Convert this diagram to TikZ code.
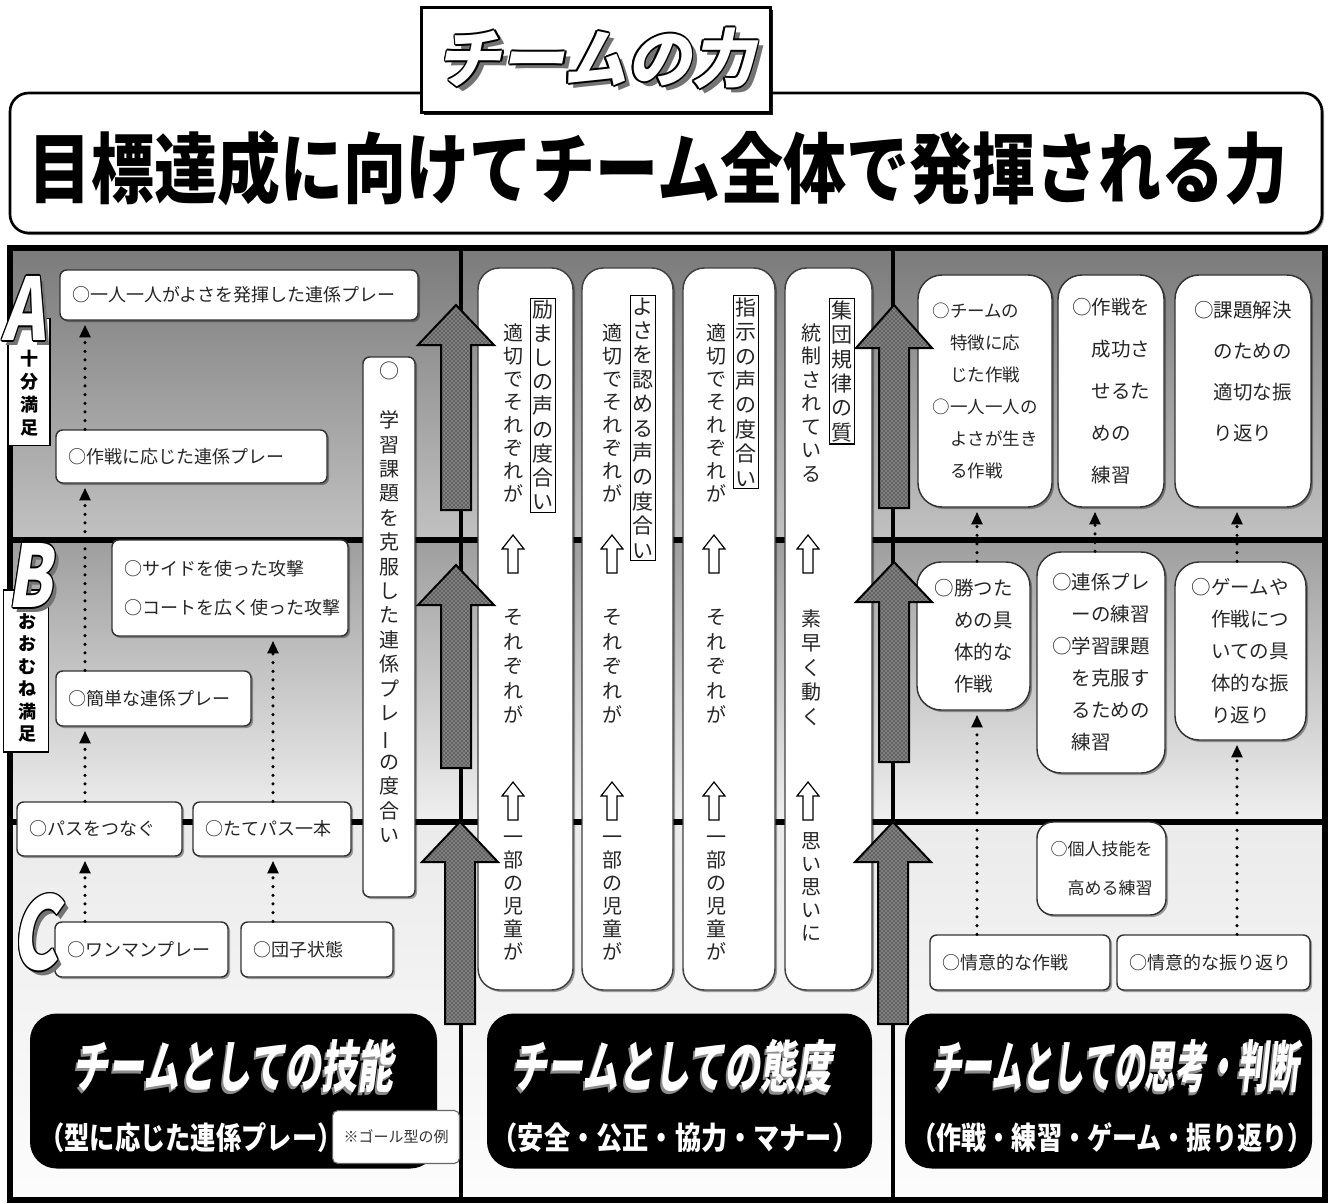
\documentclass[tikz,border=0pt]{standalone}
\usepackage{fontspec}
\usepackage{graphicx}
\usetikzlibrary{arrows.meta,patterns,shadows,calc}
\newfontfamily\jp{Noto Sans CJK JP}
\newfontfamily\jpsl[FakeSlant=0.2]{Noto Sans CJK JP}
\newcommand\PX[1]{\fpeval{(#1)*0.75}pt}
\newcommand\px[2]{\fontsize{\PX{#1}}{\PX{#2}}\selectfont}
\makeatletter
\def\vt#1{\vt@aux#1\relax}
\def\vt@aux#1{\ifx\relax#1\else\hbox to 1em{\hss#1\hss}\expandafter\vt@aux\fi}
\makeatother
\newcommand\vtext[2]{\vbox{\baselineskip=\PX{#1}\lineskiplimit=-100pt\lineskip=0pt\vt{#2}}}
\newcommand\VB{\rotatebox[origin=c]{90}{ー}}
\newcommand\cp[3]{\rlap{\kern#1\raisebox{#2}{#3}}}
\newcommand\olt[2]{\mbox{%
\cp{\PX{3*#1}}{\PX{-3*#1}}{\color{black!55}#2}%
\cp{\PX{#1}}{0pt}{\color{black}#2}%
\cp{\PX{-#1}}{0pt}{\color{black}#2}%
\cp{0pt}{\PX{#1}}{\color{black}#2}%
\cp{0pt}{\PX{-#1}}{\color{black}#2}%
\cp{\PX{0.7*#1}}{\PX{0.7*#1}}{\color{black}#2}%
\cp{\PX{-0.7*#1}}{\PX{0.7*#1}}{\color{black}#2}%
\cp{\PX{0.7*#1}}{\PX{-0.7*#1}}{\color{black}#2}%
\cp{\PX{-0.7*#1}}{\PX{-0.7*#1}}{\color{black}#2}%
{\color{white}#2}}}
\newcommand\sht[1]{\mbox{\cp{\PX{-3}}{\PX{-3}}{\color{black!45}#1}{\color{white}#1}}}
\tikzset{
  lbx/.style={draw=black!80, line width=1.1pt, fill=white, rounded corners=5pt,
    drop shadow={shadow xshift=1.5pt, shadow yshift=-1.5pt, opacity=0.35, fill=black},
    font=\jp\px{18}{22}, text=black!85, align=left, inner xsep=9pt, inner ysep=0pt},
  rbx/.style={lbx, rounded corners=18pt, inner xsep=0pt},
  colbox/.style={draw=black!75, line width=1.1pt, fill=white, rounded corners=16pt,
    drop shadow={shadow xshift=1.5pt, shadow yshift=-1.5pt, opacity=0.35, fill=black}},
  vtx/.style={font=\jp\px{20}{23}, text=black!85, inner sep=0pt, anchor=north},
  lab/.style={draw=black, line width=1pt, fill=white, inner xsep=1.5pt, inner ysep=1.5pt,
    font=\jp\px{21}{24}, text=black!85, anchor=north},
  dotarr/.style={line width=2.6pt, line cap=round, dash pattern=on 0pt off 6.5pt,
    -{Triangle[length=9.5pt, width=8pt]}, shorten >=3pt},
  bigarr/.style={draw=black, line width=1.5pt, fill=black!50,
    postaction={pattern=crosshatch dots, pattern color=black}},
  blk/.style={fill=black, rounded corners=20pt, inner sep=0pt},
}
\newcommand\bxL[7][]{\node[lbx,#1, minimum width={(#5-#3)*0.75pt}, minimum height={(#6-#4)*0.75pt}, text width={(#5-#3-24)*0.75pt}] (#2) at ({(#3+#5)/2},{(#4+#6)/2}) {#7};}
\newcommand\bxR[7][]{\node[rbx,#1, minimum width={(#5-#3)*0.75pt}, minimum height={(#6-#4)*0.75pt}] (#2) at ({(#3+#5)/2},{(#4+#6)/2}) {#7};}
\newcommand\bigarrow[4]{\draw[bigarr] (#1,#2) -- ({#1+38},#3) -- ({#1+15},#3) -- ({#1+15},#4) -- ({#1-15},#4) -- ({#1-15},#3) -- ({#1-38},#3) -- cycle;}
\newcommand\hollow[2]{\draw[line width=0.9pt, fill=white, line join=miter] (#1,#2) -- ({#1+11},{#2+14}) -- ({#1+5},{#2+14}) -- ({#1+5},{#2+38}) -- ({#1-5},{#2+38}) -- ({#1-5},{#2+14}) -- ({#1-11},{#2+14}) -- cycle;}
\begin{document}
\begin{tikzpicture}[x=0.75pt,y=-0.75pt]
\useasboundingbox (0,0) rectangle (1331,1203);
\fill[white] (0,0) rectangle (1331,1203);
% ---------- header ----------
\node[draw, line width=2pt, rounded corners=14pt, fill=white, minimum width={1312*0.75pt}, minimum height={140*0.75pt}, inner sep=0pt,
  drop shadow={shadow xshift=1.5pt, shadow yshift=-1.5pt, opacity=0.4, fill=black}] (goal) at (666,163) {};
\node[font=\jp\bfseries\px{63}{63}, inner sep=0pt] (goaltxt) at (658,168) {\scalebox{1}[1.22]{目標達成に向けてチーム全体で発揮される力}};
\node[draw, line width=2pt, fill=white, minimum width={349*0.75pt}, minimum height={105*0.75pt}, inner sep=0pt,
  drop shadow={shadow xshift=2pt, shadow yshift=-2pt, opacity=0.9, fill=black},
  font=\jpsl\bfseries\px{64}{64}] (power) at (596,60) {\olt{1.8}{チームの力}};
% ---------- grid ----------
\shade[top color=black!52, bottom color=black!24] (10,248) rectangle (1325,540);
\shade[top color=black!38, bottom color=black!6] (10,540) rectangle (1325,822);
\shade[top color=black!8, bottom color=black!1] (10,822) rectangle (1325,1200);
\draw[line width=2.6pt] (461,248) -- (461,1200);
\draw[line width=2.6pt] (893,248) -- (893,1200);
\draw[line width=5pt] (10,540) -- (1325,540);
\draw[line width=5pt] (10,822) -- (1325,822);
\draw[line width=4pt] (10,248) rectangle (1325,1200);
% ---------- left column ----------
\bxL{b1}{60}{270}{418}{320}{○一人一人がよさを発揮した連係プレー}
\bxL{b2}{56}{430}{327}{483}{○作戦に応じた連係プレー}
\bxL[font=\jp\px{18}{39}]{b3}{112}{540}{348}{636}{○サイドを使った攻撃\\○コートを広く使った攻撃}
\bxL{b4}{56}{671}{251}{726}{○簡単な連係プレー}
\bxL{b5}{17}{802}{182}{856}{○パスをつなぐ}
\bxL{b6}{193}{802}{351}{856}{○たてパス一本}
\bxL{b7}{55}{922}{228}{977}{○ワンマンプレー}
\bxL{b8}{241}{922}{393}{977}{○団子状態}
\node[lbx, minimum width={52*0.75pt}, minimum height={540*0.75pt}, inner sep=0pt] (tall) at (389,627) {};
\node[vtx] (tallt) at (389,362) {\vtext{24.4}{○　学習課題を克服した連係プレ\VB の度合い}};
\node[draw, line width=1pt, fill=white, minimum width={42*0.75pt}, minimum height={127*0.75pt}, inner sep=0pt] (lblA) at (29,382) {};
\node[font=\jp\bfseries\px{18}{23}, inner sep=0pt, anchor=north] (lblAt) at (29,350) {\vtext{23}{十分満足}};
\node[draw, line width=1pt, fill=white, minimum width={45*0.75pt}, minimum height={162*0.75pt}, inner sep=0pt] (lblB) at (26,671) {};
\node[font=\jp\bfseries\px{18}{22}, inner sep=0pt, anchor=north] (lblBt) at (27,613) {\vtext{22.5}{おおむね満足}};
\node[font=\jpsl\bfseries\px{86}{86}, inner sep=0pt] (letA) at (24,310) {\scalebox{0.75}[1]{\olt{1.6}{A}}};
\node[font=\jpsl\bfseries\px{86}{86}, inner sep=0pt] (letB) at (30,577) {\scalebox{0.75}[1]{\olt{1.6}{B}}};
\node[font=\jpsl\bfseries\px{100}{100}, inner sep=0pt] (letC) at (35,934) {\scalebox{0.7}[1]{\olt{1.6}{C}}};
% ---------- middle column ----------
\node[colbox, minimum width={95*0.75pt}, minimum height={722*0.75pt}] (col1) at (525.5,629) {};
\node[colbox, minimum width={91*0.75pt}, minimum height={722*0.75pt}] (col2) at (627.5,629) {};
\node[colbox, minimum width={92*0.75pt}, minimum height={722*0.75pt}] (col3) at (729,629) {};
\node[colbox, minimum width={87*0.75pt}, minimum height={722*0.75pt}] (col4) at (828.5,629) {};
\node[lab] (c1l) at (543,298) {\vtext{24}{励ましの声の度合い}};
\node[lab] (c2l) at (643,295) {\vtext{24.4}{よさを認める声の度合い}};
\node[lab] (c3l) at (746,295) {\vtext{24.4}{指示の声の度合い}};
\node[lab] (c4l) at (842,298) {\vtext{24.4}{集団規律の質}};
\node[vtx] (c1a) at (513,323) {\vtext{23}{適切でそれぞれが}};
\node[vtx] (c2a) at (612,323) {\vtext{23}{適切でそれぞれが}};
\node[vtx] (c3a) at (716,323) {\vtext{23}{適切でそれぞれが}};
\node[vtx] (c4a) at (811,323) {\vtext{23.5}{統制されている}};
\node[vtx] (c1b) at (513,609) {\vtext{24.5}{それぞれが}};
\node[vtx] (c2b) at (612,609) {\vtext{24.5}{それぞれが}};
\node[vtx] (c3b) at (716,609) {\vtext{24.5}{それぞれが}};
\node[vtx] (c4b) at (811,609) {\vtext{24.5}{素早く動く}};
\node[vtx] (c1c) at (513,836) {\vtext{23}{一部の児童が}};
\node[vtx] (c2c) at (612,836) {\vtext{23}{一部の児童が}};
\node[vtx] (c3c) at (716,836) {\vtext{23}{一部の児童が}};
\node[vtx] (c4c) at (811,832) {\vtext{23}{思い思いに}};
\foreach \xx in {513,612,714,808} {\hollow{\xx}{535}\hollow{\xx}{782}}
% ---------- right column ----------
\bxR[font=\jp\px{17.5}{32}]{r1}{918}{275}{1052}{507}{○チームの\\\hspace*{1em}特徴に応\\\hspace*{1em}じた作戦\\○一人一人の\\\hspace*{1em}よさが生き\\\hspace*{1em}る作戦}
\bxR[font=\jp\px{19.5}{42}]{r2}{1058}{275}{1164}{507}{○作戦を\\\hspace*{1em}成功さ\\\hspace*{1em}せるた\\\hspace*{1em}めの\\\hspace*{1em}練習}
\bxR[font=\jp\px{19.5}{41}]{r3}{1175}{275}{1311}{507}{○課題解決\\\hspace*{1em}のための\\\hspace*{1em}適切な振\\\hspace*{1em}り返り\\\mbox{}}
\bxR[font=\jp\px{19.5}{32}]{rb1}{917}{562}{1030}{710}{○勝つた\\\hspace*{1em}めの具\\\hspace*{1em}体的な\\\hspace*{1em}作戦}
\bxR[font=\jp\px{19.5}{32}]{rb2}{1037}{552}{1165}{773}{○連係プレ\\\hspace*{1em}ーの練習\\○学習課題\\\hspace*{1em}を克服す\\\hspace*{1em}るための\\\hspace*{1em}練習}
\bxR[font=\jp\px{19.5}{32}]{rb3}{1175}{562}{1306}{740}{○ゲームや\\\hspace*{1em}作戦につ\\\hspace*{1em}いての具\\\hspace*{1em}体的な振\\\hspace*{1em}り返り}
\bxR[font=\jp\px{17}{39}, rounded corners=12pt]{rc}{1037}{822}{1166}{915}{○個人技能を\\\hspace*{1em}高める練習}
\bxL{rc1}{930}{935}{1110}{990}{○情意的な作戦}
\bxL{rc2}{1117}{935}{1310}{990}{○情意的な振り返り}
% ---------- big arrows ----------
\bigarrow{456}{305}{345}{510}
\bigarrow{456}{565}{605}{768}
\bigarrow{460}{822}{862}{1024}
\bigarrow{894}{305}{348}{508}
\bigarrow{894}{562}{602}{762}
\bigarrow{893}{822}{862}{1024}
% ---------- dotted arrows ----------
\coordinate (xl1) at (85,0);
\coordinate (xl2) at (273,0);
\coordinate (xr1) at (977,0);
\coordinate (xr2) at (1095,0);
\coordinate (xr3) at (1237,0);
\draw[dotarr] (b2.north -| xl1) -- (b1.south -| xl1);
\draw[dotarr] (b4.north -| xl1) -- (b2.south -| xl1);
\draw[dotarr] (b5.north -| xl1) -- (b4.south -| xl1);
\draw[dotarr] (b7.north -| xl1) -- (b5.south -| xl1);
\draw[dotarr] (b8.north -| xl2) -- (b6.south -| xl2);
\draw[dotarr] (b6.north -| xl2) -- (b3.south -| xl2);
\draw[dotarr] (rc1.north -| xr1) -- (rb1.south -| xr1);
\draw[dotarr] (rb1.north -| xr1) -- (r1.south -| xr1);
\draw[dotarr] (rb2.north -| xr2) -- (r2.south -| xr2);
\draw[dotarr] (rc2.north -| xr3) -- (rb3.south -| xr3);
\draw[dotarr] (rb3.north -| xr3) -- (r3.south -| xr3);
% ---------- bottom boxes ----------
\node[blk, minimum width={407*0.75pt}, minimum height={155*0.75pt}] (skill) at (233.5,1091) {};
\node[blk, minimum width={385*0.75pt}, minimum height={155*0.75pt}] (attitude) at (679.5,1091) {};
\node[blk, minimum width={407*0.75pt}, minimum height={155*0.75pt}] (judge) at (1108.5,1091) {};
\node[font=\jpsl\bfseries\px{56}{56}, inner sep=0pt] (skillT) at (233,1068) {\scalebox{0.64}[1]{\sht{チームとしての技能}}};
\node[font=\jpsl\bfseries\px{56}{56}, inner sep=0pt] (attT) at (672,1068) {\scalebox{0.64}[1]{\sht{チームとしての態度}}};
\node[font=\jpsl\bfseries\px{56}{56}, inner sep=0pt] (judT) at (1115,1068) {\scalebox{0.55}[1]{\sht{チームとしての思考・判断}}};
\node[font=\jp\bfseries\px{31}{31}, text=white, inner sep=0pt] (skillS) at (191,1138) {\scalebox{0.815}[1]{（型に応じた連係プレー）}};
\node[font=\jp\bfseries\px{31}{31}, text=white, inner sep=0pt] (attS) at (675,1138) {\scalebox{0.845}[1]{（安全・公正・協力・マナー）}};
\node[font=\jp\bfseries\px{31}{31}, text=white, inner sep=0pt] (judS) at (1112,1138) {\scalebox{0.81}[1]{（作戦・練習・ゲーム・振り返り）}};
\node[draw=black!60, line width=0.8pt, fill=white, rounded corners=4pt, minimum width={127*0.75pt}, minimum height={53*0.75pt},
  font=\jp\px{15}{16}, text=black!80, inner sep=0pt] (note) at (396,1137) {※ゴール型の例};
\end{tikzpicture}
\end{document}
